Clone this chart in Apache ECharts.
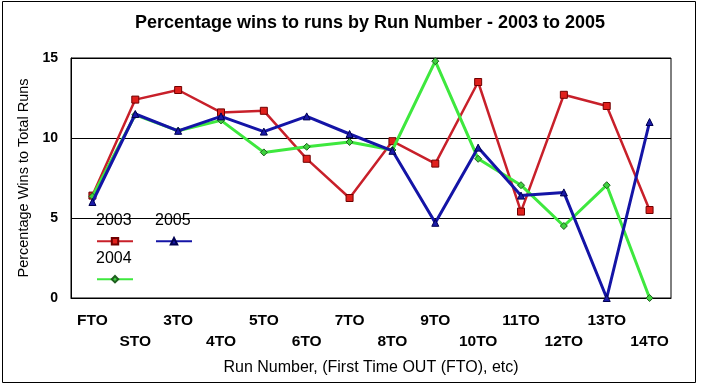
<!DOCTYPE html>
<html>
<head>
<meta charset="utf-8">
<script src="https://cdn.jsdelivr.net/npm/echarts@6/dist/echarts.min.js"></script>
<style>
html,body{margin:0;padding:0;background:#fff;}
#chart{width:702px;height:386px;}
</style>
</head>
<body>
<div id="chart"></div>
<script>
var categories = ['FTO','STO','3TO','4TO','5TO','6TO','7TO','8TO','9TO','10TO','11TO','12TO','13TO','14TO'];
var s2003 = [6.4, 12.4, 13.0, 11.6, 11.7, 8.7, 6.25, 9.8, 8.4, 13.5, 5.4, 12.7, 12.0, 5.5];
var s2004 = [6.35, 11.45, 10.45, 11.1, 9.1, 9.45, 9.75, 9.25, 14.8, 8.7, 7.05, 4.5, 7.05, 0];
var s2005 = [6.0, 11.5, 10.45, 11.35, 10.4, 11.35, 10.25, 9.2, 4.7, 9.4, 6.4, 6.6, 0, 11.0];
var yTicks = [0, 5, 10, 15];

var chart = echarts.init(document.getElementById('chart'), null, {renderer:'canvas'});
var font = 'Liberation Sans, Arial, sans-serif';
chart.setOption({
  animation: false,
  backgroundColor: '#fff',
  title: {
    text: 'Percentage wins to runs by Run Number - 2003 to 2005',
    left: 370, top: 14, textAlign: 'center', padding: 0,
    textStyle: {fontFamily: font, fontSize: 18, fontWeight: 'bold', color: '#000'}
  },
  grid: {left: 71, right: 31, top: 58, bottom: 88, show: true, borderColor: '#000', borderWidth: 1, backgroundColor: '#fff'},
  legend: [
    {data: ['2003'], left: 96, top: 237, padding: 0, itemWidth: 36, itemHeight: 8, selectedMode: false, formatter: function(){return '';}, textStyle: {fontSize: 8}},
    {data: ['2005'], left: 155, top: 237, padding: 0, itemWidth: 36, itemHeight: 8, selectedMode: false, formatter: function(){return '';}, textStyle: {fontSize: 8}},
    {data: ['2004'], left: 96, top: 275, padding: 0, itemWidth: 36, itemHeight: 8, selectedMode: false, formatter: function(){return '';}, textStyle: {fontSize: 8}}
  ],
  graphic: [
    {type: 'rect', shape: {x: 2.5, y: 1.5, width: 693, height: 381}, style: {fill: 'none', stroke: '#000', lineWidth: 1}, z: 100},
    {type: 'text', left: 96, top: 213, style: {text: '2003', font: '16px ' + font, fill: '#000'}, z: 100},
    {type: 'text', left: 155, top: 213, style: {text: '2005', font: '16px ' + font, fill: '#000'}, z: 100},
    {type: 'text', left: 96, top: 251, style: {text: '2004', font: '16px ' + font, fill: '#000'}, z: 100}
  ],
  xAxis: {
    type: 'category', data: categories, boundaryGap: true,
    axisLine: {show: true, lineStyle: {color: '#000'}},
    axisTick: {show: false},
    axisLabel: {
      interval: 0, margin: 12, color: '#000', fontFamily: font, fontSize: 15.5, fontWeight: 'bold', lineHeight: 21,
      formatter: function(v, i){ return i % 2 ? '\n' + v : v; }
    },
    name: 'Run Number, (First Time OUT (FTO), etc)', nameLocation: 'middle', nameGap: 62,
    nameTextStyle: {fontFamily: font, fontSize: 16, color: '#000'}
  },
  yAxis: {
    type: 'value', min: yTicks[0], max: yTicks[yTicks.length-1], interval: 5,
    axisLine: {show: true, lineStyle: {color: '#000'}},
    axisTick: {show: false},
    splitLine: {show: true, lineStyle: {color: '#000', width: 1}},
    axisLabel: {margin: 13, color: '#000', fontFamily: font, fontSize: 14, fontWeight: 'bold'},
    name: 'Percentage Wins to Total Runs', nameLocation: 'middle', nameGap: 38, nameRotate: 90,
    nameTextStyle: {fontFamily: font, fontSize: 14.5, color: '#000'}
  },
  series: [
    {name: '2003', type: 'line', data: s2003, symbol: 'rect', symbolSize: 7, showAllSymbol: true,
     lineStyle: {color: '#c8202a', width: 2.5}, itemStyle: {color: '#e0201c', borderColor: '#700000', borderWidth: 1}, z: 2},
    {name: '2004', type: 'line', data: s2004, symbol: 'diamond', symbolSize: 7, showAllSymbol: true,
     lineStyle: {color: '#3ee83e', width: 3}, itemStyle: {color: '#3ed13e', borderColor: '#1f5f1f', borderWidth: 1}, z: 3},
    {name: '2005', type: 'line', data: s2005, symbol: 'triangle', symbolSize: 7, showAllSymbol: true,
     lineStyle: {color: '#1414a6', width: 3}, itemStyle: {color: '#1a1aa8', borderColor: '#000050', borderWidth: 1}, z: 4}
  ]
});
</script>
</body>
</html>
